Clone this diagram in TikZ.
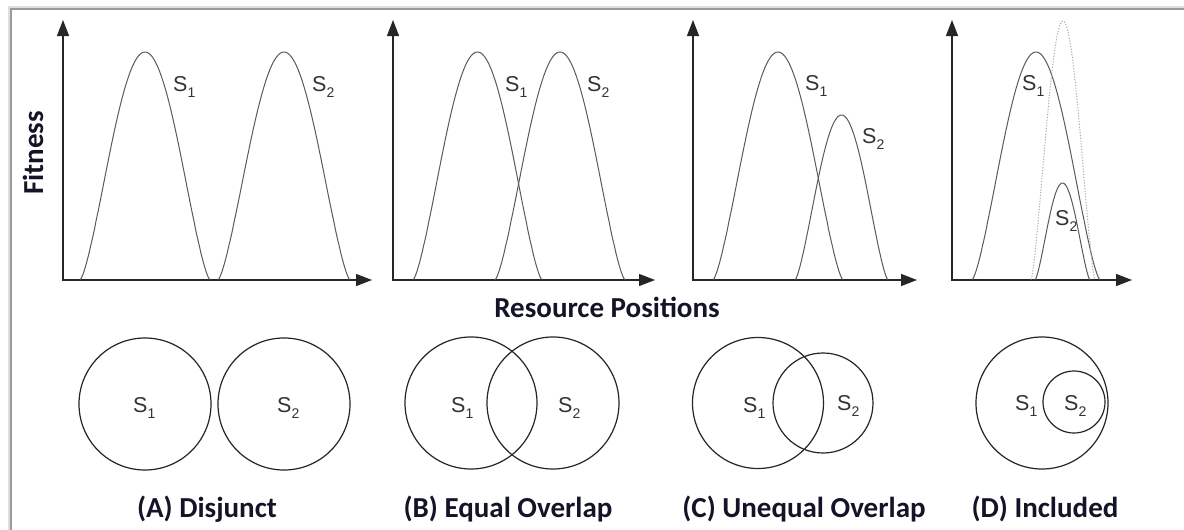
\documentclass[tikz,border=0pt]{standalone}
\usepackage{fontspec}
\setmainfont{Carlito}
\newfontfamily\labfont{Liberation Sans}
\usetikzlibrary{arrows.meta}
\definecolor{txt}{HTML}{141428}
\definecolor{crv}{HTML}{5a5a5a}
\tikzset{
  axis/.style={line width=1.3pt, draw=black!85,
    {Triangle[length=16pt,width=12pt]}-{Triangle[length=16pt,width=12pt]}},
  curve/.style={line width=1pt, draw=crv},
  dotcurve/.style={line width=1pt, draw=gray!65, dash pattern=on 1.2pt off 1.6pt},
  ring/.style={circle, draw=black!85, line width=1.2pt, inner sep=0pt},
  slab/.style={font=\labfont\fontsize{21.5}{24}\selectfont, text=black!80, inner sep=0pt, anchor=base west},
  title/.style={font=\bfseries\fontsize{29}{32}\selectfont, text=txt, inner sep=0pt},
  framedark/.style={draw=gray!80, line width=1.6pt},
  frameshadow/.style={draw=gray!25, line width=2pt},
}
\newcommand{\Sn}[1]{S\raisebox{-6pt}{\fontsize{14}{14}\selectfont #1}}
\newcommand{\bumpcurve}[4][]{\draw[curve,#1] plot[domain=-#3:#3,samples=100,smooth] ({#2+\x},{280-(280-#4)*(max(0.0001,(1+cos(180*\x/#3))/2))^0.7});}
\begin{document}
\begin{tikzpicture}[x=1pt,y=-1pt]
\useasboundingbox (0,0) rectangle (1184,530);
\fill[white] (0,0) rectangle (1184,530);
% frame
\draw[frameshadow] (8.5,530) -- (8.5,6.5) -- (1184,6.5);
\draw[framedark] (11,530) -- (11,9) -- (1184,9);

% axes
\coordinate (tA) at (63,20);  \coordinate (rA) at (372,280);
\coordinate (tB) at (393,20); \coordinate (rB) at (655,280);
\coordinate (tC) at (693,20); \coordinate (rC) at (917,280);
\coordinate (tD) at (952,20); \coordinate (rD) at (1132,280);
\draw[axis] (tA) |- (rA);
\draw[axis] (tB) |- (rB);
\draw[axis] (tC) |- (rC);
\draw[axis] (tD) |- (rD);

% curves
\bumpcurve{145}{65}{52}
\bumpcurve{284}{66}{52}
\bumpcurve{477.5}{64.5}{52}
\bumpcurve{560}{65}{52}
\bumpcurve{778}{65}{52}
\bumpcurve{841.5}{46.5}{115}
\bumpcurve{1036}{64}{52}
\bumpcurve{1062.5}{27.5}{183}
\bumpcurve[dotcurve]{1063}{32}{21}

% curve labels
\node[slab] (lA1) at (173,91) {\Sn{1}};
\node[slab] (lA2) at (312,91) {\Sn{2}};
\node[slab] (lB1) at (505,91) {\Sn{1}};
\node[slab] (lB2) at (587,91) {\Sn{2}};
\node[slab] (lC1) at (805,90) {\Sn{1}};
\node[slab] (lC2) at (862,143) {\Sn{2}};
\node[slab] (lD1) at (1022,90) {\Sn{1}};
\node[slab] (lD2) at (1055,225) {\Sn{2}};

% axis titles
\node[title, rotate=90] (fit) at (33,153) {Fitness};
\node[title] (res) at (607,307) {Resource Positions};

% circles
\node[ring, minimum size=132pt] (cA1) at (145,404) {};
\node[ring, minimum size=132pt] (cA2) at (284,404) {};
\node[ring, minimum size=132pt] (cB1) at (471,403) {};
\node[ring, minimum size=132pt] (cB2) at (553,403) {};
\node[ring, minimum size=131pt] (cC1) at (758,403) {};
\node[ring, minimum size=100pt] (cC2) at (823,403) {};
\node[ring, minimum size=132pt] (cD1) at (1042,403) {};
\node[ring, minimum size=62pt] (cD2) at (1074,402) {};

% circle labels
\node[slab] (kA1) at (133,412) {\Sn{1}};
\node[slab] (kA2) at (277,412) {\Sn{2}};
\node[slab] (kB1) at (451,412) {\Sn{1}};
\node[slab] (kB2) at (558,412) {\Sn{2}};
\node[slab] (kC1) at (743,412) {\Sn{1}};
\node[slab] (kC2) at (837,410) {\Sn{2}};
\node[slab] (kD1) at (1015,410) {\Sn{1}};
\node[slab] (kD2) at (1064,410) {\Sn{2}};

% captions
\node[title] (capA) at (207,509) {(A) Disjunct};
\node[title] (capB) at (508,509) {(B) Equal Overlap};
\node[title] (capC) at (804,509) {(C) Unequal Overlap};
\node[title] (capD) at (1045,509) {(D) Included};
\end{tikzpicture}
\end{document}
